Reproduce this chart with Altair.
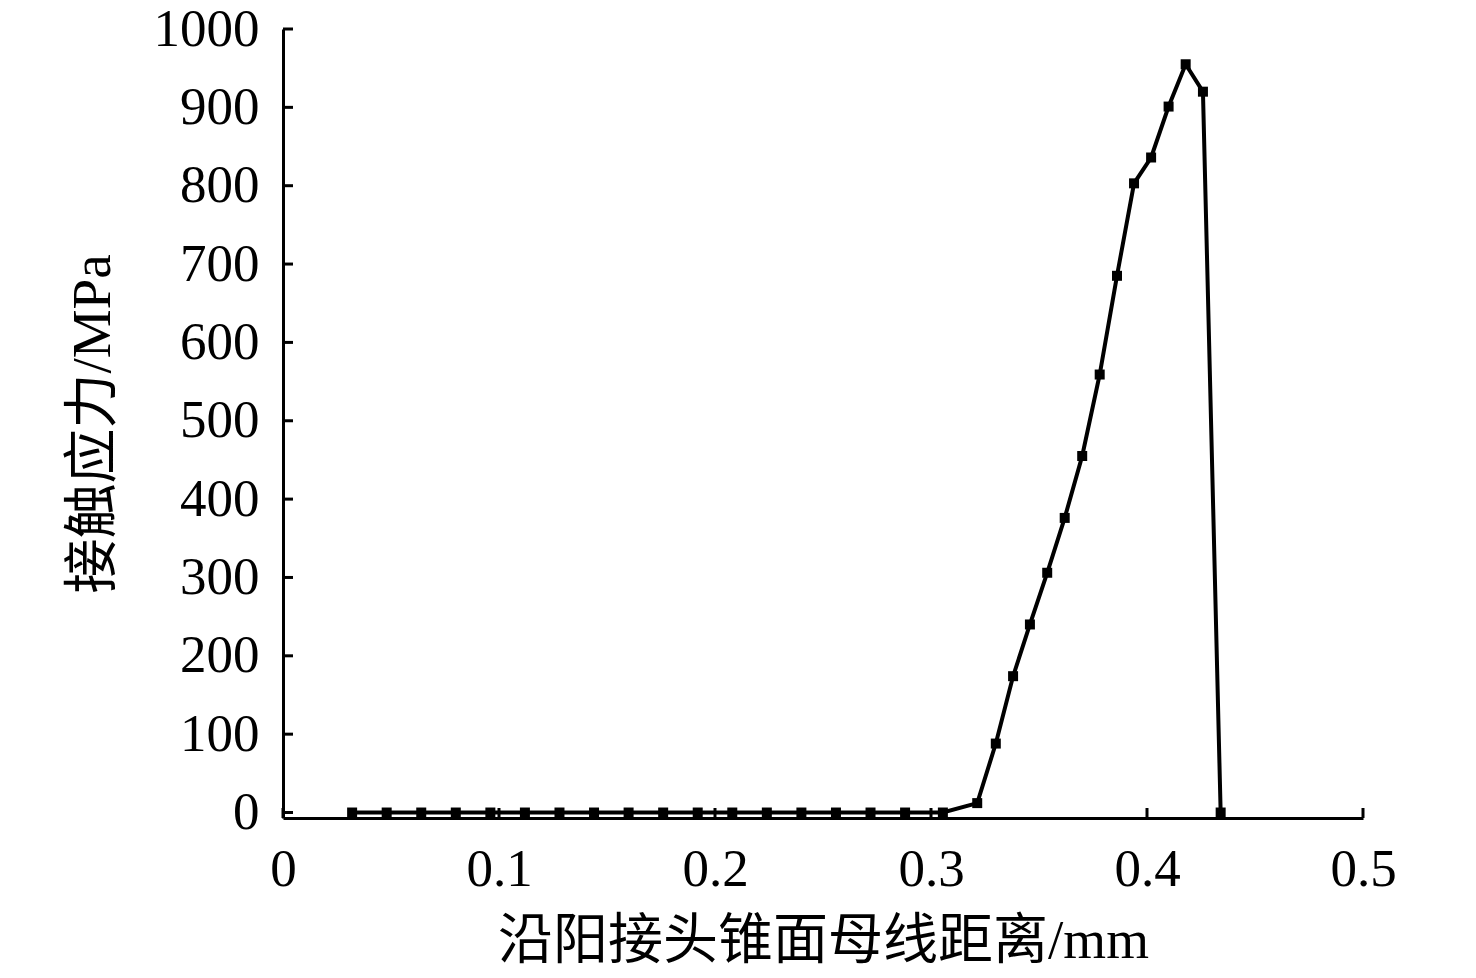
import altair as alt
import pandas as pd

# distance along cone generatrix (mm) and contact stress (MPa)
x_mm = [0.032, 0.048, 0.064, 0.080, 0.096, 0.112, 0.128, 0.144, 0.160, 0.176,
        0.192, 0.208, 0.224, 0.240, 0.256, 0.272, 0.288, 0.3055,
        0.3214, 0.3300, 0.3380, 0.3458, 0.3538, 0.3619, 0.3700, 0.3781,
        0.3861, 0.3940, 0.4019, 0.4100, 0.4179, 0.4259, 0.4341]
stress = [0, 0, 0, 0, 0, 0, 0, 0, 0, 0,
          0, 0, 0, 0, 0, 0, 0, 0,
          12, 88, 174, 240, 306, 376, 455, 559,
          685, 803, 836, 901, 955, 920, 0]

x_ticks = [0, 0.1, 0.2, 0.3, 0.4, 0.5]
y_ticks = [0, 100, 200, 300, 400, 500, 600, 700, 800, 900, 1000]

W, H = 1080, 789
font = "Liberation Serif, Noto Sans CJK SC"

df = pd.DataFrame({"x": x_mm, "y": stress})
xs = alt.Scale(domain=[0, 0.5], nice=False, zero=False)
ys = alt.Scale(domain=[-7, 1000], nice=False, zero=False)

# same axis definitions in every layer so they merge into one
x_axis = alt.Axis(values=x_ticks, format=".1~f", ticks=False, labelFlush=False,
                  title="沿阳接头锥面母线距离/mm",
                  labelPadding=25, titleY=122, titleBaseline="middle")
y_axis = alt.Axis(values=y_ticks, format="d", ticks=False,
                  title="接触应力/MPa",
                  labelPadding=24, titleX=-191, titleBaseline="middle")

line = alt.Chart(df).mark_line(
    color="black", strokeWidth=4,
    point=alt.OverlayMarkDef(shape="square", size=100, filled=True, color="black", opacity=1),
).encode(
    x=alt.X("x:Q", scale=xs, axis=x_axis),
    y=alt.Y("y:Q", scale=ys, axis=y_axis),
)

# inward-pointing tick marks
xtick_rules = alt.Chart(pd.DataFrame({"x": x_ticks})).mark_rule(
    color="black", strokeWidth=3
).encode(
    x=alt.X("x:Q", scale=xs, axis=x_axis),
    y=alt.value(H), y2=alt.value(H - 10),
)

ytick_rules = alt.Chart(pd.DataFrame({"y": y_ticks})).mark_rule(
    color="black", strokeWidth=3
).encode(
    y=alt.Y("y:Q", scale=ys, axis=y_axis),
    x=alt.value(0), x2=alt.value(10),
)

chart = alt.layer(line, xtick_rules, ytick_rules).properties(
    width=W, height=H,
    autosize=alt.AutoSizeParams(type="none"),
    padding={"left": 275, "top": 21, "right": 80, "bottom": 160},
).configure_view(
    stroke=None
).configure_axis(
    grid=False,
    domainColor="black", domainWidth=3,
    labelFont=font, labelFontSize=53, labelColor="black",
    titleFont=font, titleFontSize=55, titleColor="black", titleFontWeight="normal",
)

chart.save("out.html", embed_options={"renderer": "svg", "actions": False})
